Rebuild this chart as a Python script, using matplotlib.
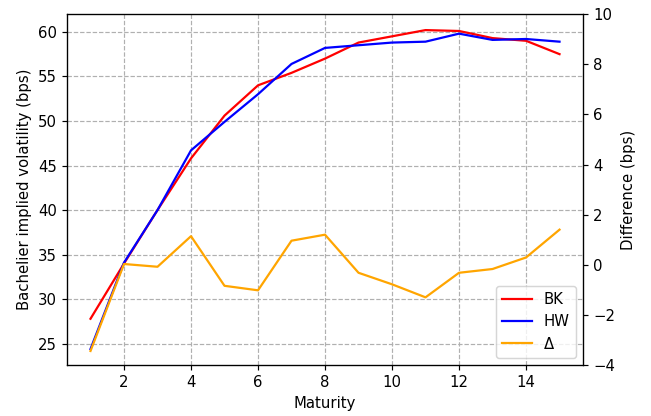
"""Bachelier implied volatility: BK vs HW, with difference on a twin axis."""
import matplotlib
matplotlib.use("Agg")
import matplotlib.pyplot as plt

maturity = [1, 2, 3, 4, 5, 6, 7, 8, 9, 10, 11, 12, 13, 14, 15]
vol_bk = [27.8, 34.0, 40.0, 45.8, 50.6, 54.0, 55.4, 57.0, 58.8, 59.5, 60.2, 60.1, 59.3, 59.0, 57.5]
vol_hw = [24.4, 34.1, 40.0, 46.7, 49.9, 53.0, 56.4, 58.2, 58.5, 58.8, 58.9, 59.8, 59.1, 59.2, 58.9]
diff = [-3.44, 0.03, -0.08, 1.14, -0.84, -1.02, 0.96, 1.2, -0.32, -0.78, -1.3, -0.32, -0.17, 0.29, 1.4]

DPI = 107


def main() -> None:
    fig, ax = plt.subplots(figsize=(651 / DPI, 416 / DPI), dpi=DPI)
    fig.subplots_adjust(left=0.103, right=0.8955, top=0.966, bottom=0.1226)

    l1, = ax.plot(maturity, vol_bk, color="red", label="BK")
    l2, = ax.plot(maturity, vol_hw, color="blue", label="HW")
    ax.set_xlabel("Maturity")
    ax.set_ylabel("Bachelier implied volatility (bps)")
    ax.set_xticks([2, 4, 6, 8, 10, 12, 14])
    ax.grid(True, linestyle="--")

    ax2 = ax.twinx()
    l3, = ax2.plot(maturity, diff, color="orange", label="Δ")
    ax2.set_ylim(-4, 10)
    ax2.set_ylabel("Difference (bps)")

    lines = [l1, l2, l3]
    ax2.legend(lines, [l.get_label() for l in lines], loc="lower right")

    fig.savefig("out.png", dpi=DPI)
    plt.close(fig)


if __name__ == "__main__":
    main()
